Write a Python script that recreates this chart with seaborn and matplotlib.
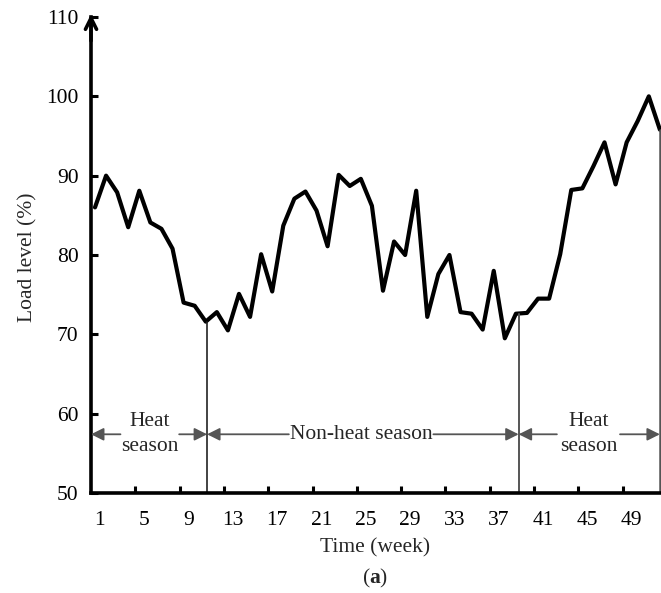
import numpy as np
import pandas as pd
import matplotlib
matplotlib.use("Agg")
import matplotlib.pyplot as plt
import seaborn as sns

weeks = list(range(1, 53))
load = [86.0, 90.0, 87.9, 83.5, 88.1, 84.1, 83.3, 80.8, 74.0, 73.6,
        71.6, 72.8, 70.5, 75.1, 72.2, 80.1, 75.4, 83.7, 87.1, 88.0,
        85.6, 81.1, 90.1, 88.7, 89.6, 86.2, 75.5, 81.7, 80.0, 88.1,
        72.2, 77.6, 80.0, 72.8, 72.6, 70.6, 78.0, 69.5, 72.6, 72.7,
        74.5, 74.5, 80.1, 88.2, 88.4, 91.2, 94.2, 88.9, 94.2, 96.9,
        100.0, 95.8]
tick_labels = [str(w) for w in range(1, 52, 4)]
season_labels = ["Heat\nseason", "Non-heat season", "Heat\nseason"]

sns.set_theme(style="white")
plt.rcParams['font.family'] = ['Liberation Serif', 'DejaVu Serif']
plt.rcParams['mathtext.fontset'] = 'custom'
plt.rcParams['mathtext.rm'] = 'Liberation Serif'
plt.rcParams['mathtext.bf'] = 'Liberation Serif:bold'

FS = 15.5
df = pd.DataFrame({"week": weeks, "load": load})

fig = plt.figure(figsize=(6.61, 5.93), dpi=100)
ax = fig.add_axes([91/661, 1-493/593, (661-91)/661, (493-17)/593])

sns.lineplot(data=df, x="week", y="load", ax=ax, color="black", lw=3.0)

x0, x1 = 0.64, 52.1
ax.set_xlim(x0, x1)
ax.set_ylim(50, 110)

for s in ["top", "right"]:
    ax.spines[s].set_visible(False)
for s in ["left", "bottom"]:
    ax.spines[s].set_linewidth(2.6)
    ax.spines[s].set_color("black")

ax.set_yticks(range(50, 111, 10))
ax.tick_params(axis="y", direction="in", length=5, width=2.2, pad=9,
               labelsize=FS, colors="black", left=True)
lab_pos = [int(t) + 0.45 for t in tick_labels]
ax.set_xticks(lab_pos)
ax.set_xticklabels(tick_labels)
ax.tick_params(axis="x", which="major", length=0, pad=13, labelsize=FS,
               colors="black")
ax.set_xticks([x0 + 4 * k for k in range(1, 13)], minor=True)
ax.tick_params(axis="x", which="minor", direction="in", length=5, width=2.2,
               bottom=True, color="black")
ax.set_xlabel("")
ax.set_ylabel("")

ax.annotate("", xy=(0, 1.006), xytext=(0, 0.95), xycoords="axes fraction",
            arrowprops=dict(arrowstyle="->", lw=2.6, color="black",
                            mutation_scale=20, shrinkA=0, shrinkB=0))

ax.plot([11.12, 11.12], [50, load[10]], color="#222222", lw=1.2)
ax.plot([39.25, 39.25], [50, load[38]], color="#555555", lw=1.4)
ax.plot([52.0, 52.0], [50, load[51]], color="#555555", lw=1.8)

ya = 57.4
arrow_kw = dict(arrowstyle="-|>", lw=1.3, color="#555555",
                mutation_scale=19, shrinkA=0, shrinkB=0)

def arr(xs, xe):
    ax.annotate("", xy=(xe, ya), xytext=(xs, ya), xycoords="data",
                arrowprops=arrow_kw)

arr(3.3, x0)
arr(8.6, 11.12)
ax.text(5.95, ya, season_labels[0], ha="center", va="center",
        fontsize=FS, linespacing=1.4)
arr(18.5, 11.12)
arr(31.55, 39.25)
ax.text(25.0, ya, season_labels[1], ha="center", va="center", fontsize=FS)
arr(42.7, 39.25)
arr(48.4, 52.0)
ax.text(45.6, ya, season_labels[2], ha="center", va="center",
        fontsize=FS, linespacing=1.4)

fig.text(28/661, 1-257/593, "Load level (%)", rotation=90, ha="center",
         va="center", fontsize=FS)
fig.text(375/661, 1-548/593, "Time (week)", ha="center", va="center",
         fontsize=FS)
fig.text(375/661, 1-578/593, r"($\mathbf{a}$)", ha="center", va="center",
         fontsize=FS)

fig.savefig("out.png", dpi=100, facecolor="white")
